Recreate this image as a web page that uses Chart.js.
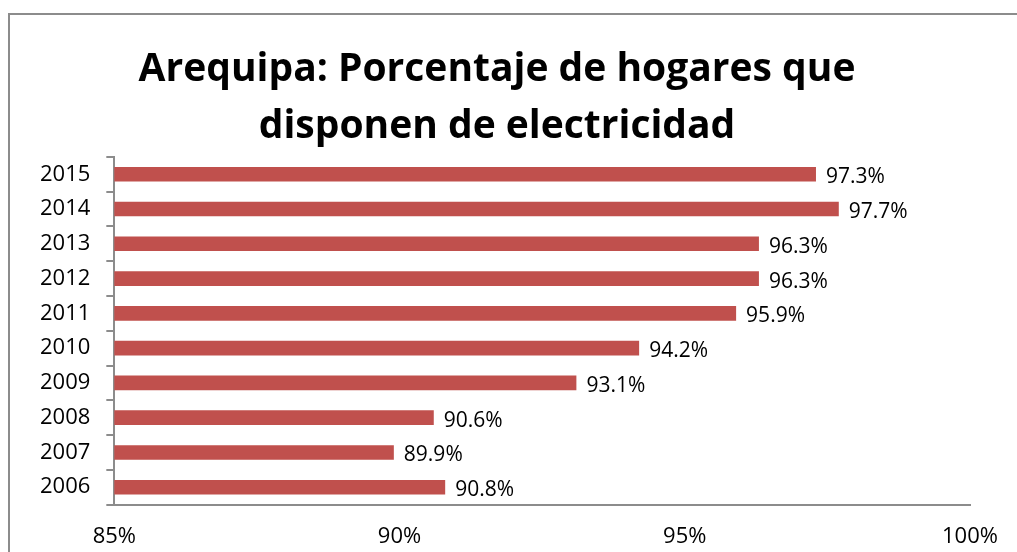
<!DOCTYPE html>
<html>
<head>
<meta charset="utf-8">
<script src="https://cdn.jsdelivr.net/npm/chart.js@4/dist/chart.umd.min.js"></script>
<style>
  html, body { margin: 0; padding: 0; background: #fff; overflow: hidden; }
  #wrap { position: relative; width: 1017px; height: 552px; }
  #frame { position: absolute; left: 8px; top: 13px; width: 1100px; height: 600px;
           border: 2px solid #8c8c8c; box-sizing: border-box; }
  canvas { position: absolute; left: 0; top: 0; }
</style>
</head>
<body>
<div id="wrap">
  <div id="frame"></div>
  <canvas id="chart" width="1017" height="552"></canvas>
</div>
<script>
/* ======================
   DATA
====================== */
const years = ["2006", "2007", "2008", "2009", "2010", "2011", "2012", "2013", "2014", "2015"]
const hogares = [90.8, 89.9, 90.6, 93.1, 94.2, 95.9, 96.3, 96.3, 97.7, 97.3]
const xTicks = [85, 90, 95, 100]
const titleLines = ["Arequipa: Porcentaje de hogares que", "disponen de electricidad"]

const FONT = "'Open Sans', 'Noto Sans', sans-serif"

/* ---------- value labels right of each bar ---------- */
const barLabels = {
  id: "barLabels",
  afterDatasetsDraw(chart) {
    const ctx = chart.ctx
    const meta = chart.getDatasetMeta(0)
    ctx.save()
    ctx.font = `21px ${FONT}`
    ctx.fillStyle = "#000"
    ctx.textAlign = "left"
    ctx.textBaseline = "middle"
    meta.data.forEach((bar, i) => {
      ctx.fillText(hogares[i].toFixed(1) + "%", bar.x + 10, bar.y + 3)
    })
    ctx.restore()
  }
}

new Chart(document.getElementById("chart"), {
  type: "bar",
  data: {
    labels: years,
    datasets: [{
      data: hogares,
      backgroundColor: "#C0504D",
      borderWidth: 0,
      categoryPercentage: 1,
      barPercentage: 0.42
    }]
  },
  options: {
    indexAxis: "y",
    responsive: false,
    animation: false,
    layout: { padding: { left: 24, right: 47, top: 0, bottom: -17 } },
    plugins: {
      legend: { display: false },
      tooltip: { enabled: false },
      title: {
        display: true,
        text: titleLines,
        color: "#000",
        font: { family: FONT, size: 39, weight: "bold", lineHeight: 1.46 },
        padding: { top: 41, bottom: 2 }
      }
    },
    scales: {
      x: {
        min: xTicks[0],
        max: xTicks[xTicks.length - 1],
        afterBuildTicks: (axis) => { axis.ticks = xTicks.map(v => ({ value: v })) },
        grid: { display: false, drawTicks: false },
        border: { display: true, color: "#8c8c8c", width: 2 },
        ticks: {
          color: "#000",
          font: { family: FONT, size: 22 },
          padding: 19,
          maxRotation: 0,
          callback: (v) => v + "%"
        }
      },
      y: {
        reverse: true,
        grid: { display: true, drawOnChartArea: false, offset: true, tickLength: 8, color: "#8c8c8c", lineWidth: 2 },
        border: { display: true, color: "#8c8c8c", width: 2 },
        ticks: { color: "#000", font: { family: FONT, size: 22 }, padding: 16 }
      }
    }
  },
  plugins: [barLabels]
})
</script>
</body>
</html>
